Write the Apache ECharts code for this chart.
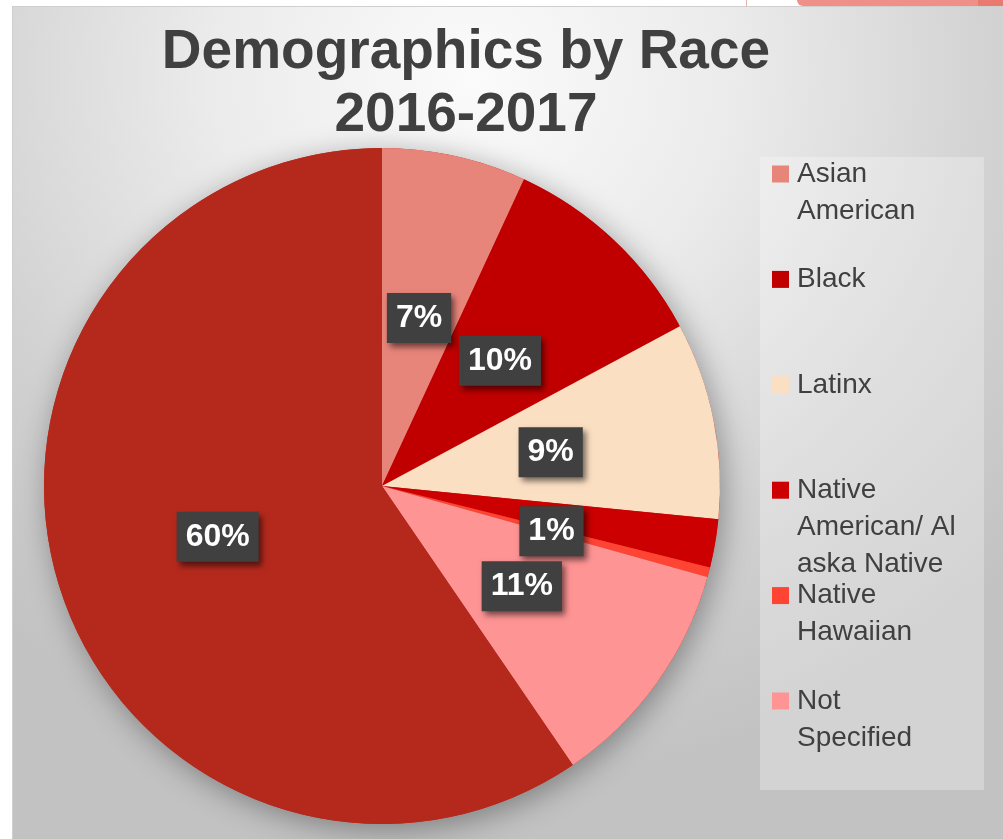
<!DOCTYPE html>
<html>
<head>
<meta charset="utf-8">
<script src="https://cdn.jsdelivr.net/npm/echarts@6/dist/echarts.min.js"></script>
<style>
  html, body { margin: 0; padding: 0; background: #ffffff; }
  #wrap { position: relative; width: 1003px; height: 839px; overflow: hidden; background: #ffffff; }
  #panel { position: absolute; left: 12px; top: 6px; width: 1000px; height: 840px;
    border-top: 1px solid #cfcfcf; border-left: 1px solid #cfcfcf;
    background: radial-gradient(ellipse 75% 85% at 46% 8%, #fbfbfb 0%, #ebebeb 35%, #d2d2d2 70%, #c2c2c2 100%); }
  #topline { position: absolute; left: 746px; top: 0; width: 1px; height: 6px; background: #e5b5b0; }
  #tab { position: absolute; left: 797px; top: -4px; width: 220px; height: 10px; background: #ee9088; border-radius: 0 0 0 6px; }
  #tab2 { position: absolute; left: 978px; top: -4px; width: 40px; height: 10px; background: #e87a70; }
  #chart { position: absolute; left: 0; top: 0; width: 1003px; height: 839px; }
</style>
</head>
<body>
<div id="wrap">
  <div id="panel"></div>
  <div id="topline"></div>
  <div id="tab"></div>
  <div id="tab2"></div>
  <div id="chart"></div>
</div>
<script>
// ---- data ----
var categories = ['Asian American', 'Black', 'Latinx', 'Native American/ Alaska Native', 'Native Hawaiian', 'Not Specified', 'White'];
var values = [6.9, 10.25, 9.4, 2.3, 0.47, 11.1, 59.5];
var percentLabels = ['7%', '10%', '9%', '1%', '', '11%', '60%'];
var legendLines = [['Asian', 'American'], ['Black'], ['Latinx'], ['Native', 'American/ Al', 'aska Native'], ['Native', 'Hawaiian'], ['Not', 'Specified']];
var colors = ['#E8857A', '#C00000', '#FBDFC2', '#CC0000', '#FF4433', '#FF9494', '#B5291D'];
var titleText = 'Demographics by Race\n2016-2017';

// ---- layout ----
var FONT = '"Liberation Sans", Arial, sans-serif';
var pieCenter = [382, 486];
var pieRadius = 338;
var legendFirstY = 174, legendStep = 105.4, legendLH = 37, legendFS = 28;

var chart = echarts.init(document.getElementById('chart'), null, { renderer: 'canvas' });

var legends = legendLines.map(function (lines, i) {
  var centerY = legendFirstY + i * legendStep;
  return {
    data: [categories[i]],
    orient: 'vertical',
    left: 772,
    top: centerY - legendLH / 2,
    padding: 0,
    itemWidth: 17,
    itemHeight: 17,
    icon: 'rect',
    selectedMode: false,
    formatter: function () { return '{t|' + lines[0] + '}'; },
    textStyle: {
      fontFamily: FONT,
      fontSize: legendFS,
      lineHeight: legendLH,
      color: '#404040',
      rich: {
        t: {
          fontFamily: FONT,
          fontSize: legendFS,
          lineHeight: legendLH,
          color: '#404040',
          padding: [0, 0, 0, 3]
        }
      }
    }
  };
});

var legendMore = [];
legendLines.forEach(function (lines, i) {
  if (lines.length > 1) {
    var centerY = legendFirstY + i * legendStep;
    legendMore.push({
      type: 'text',
      x: 797,
      y: centerY + legendLH / 2,
      silent: true,
      style: {
        text: lines.slice(1).join('\n'),
        font: legendFS + 'px ' + FONT,
        lineHeight: legendLH,
        fill: '#404040',
        verticalAlign: 'top',
        align: 'left'
      }
    });
  }
});

var pieData = categories.map(function (c, i) {
  return {
    name: c,
    value: values[i],
    itemStyle: { color: colors[i] },
    label: { show: percentLabels[i] !== '' }
  };
});

chart.setOption({
  animation: false,
  backgroundColor: 'transparent',
  color: colors,
  graphic: [{
    type: 'rect',
    left: 760, top: 157,
    shape: { width: 224, height: 633 },
    style: { fill: 'rgba(255,255,255,0.28)' },
    z: -10, silent: true
  }].concat(legendMore),
  title: {
    text: titleText,
    left: 466,
    top: 21,
    padding: 0,
    textAlign: 'center',
    textStyle: {
      fontFamily: FONT,
      fontSize: 55,
      fontWeight: 'bold',
      lineHeight: 63,
      color: '#404040'
    }
  },
  legend: legends,
  series: [{
    type: 'pie',
    name: 'shadow',
    silent: true,
    center: pieCenter,
    radius: pieRadius,
    z: 1,
    label: { show: false },
    labelLine: { show: false },
    data: [{ value: 1, name: '', itemStyle: { color: '#B5291D', shadowBlur: 30, shadowColor: 'rgba(0,0,0,0.35)', shadowOffsetX: 4, shadowOffsetY: 6 } }]
  }, {
    type: 'pie',
    name: 'Race',
    center: pieCenter,
    radius: pieRadius,
    startAngle: 90,
    clockwise: true,
    z: 2,
    avoidLabelOverlap: false,
    itemStyle: { borderWidth: 0 },
    emphasis: { disabled: true },
    label: {
      show: true,
      position: 'inside',
      formatter: function (p) { return percentLabels[p.dataIndex]; },
      fontFamily: FONT,
      fontSize: 32,
      fontWeight: 'bold',
      lineHeight: 32,
      color: '#ffffff',
      backgroundColor: '#404040',
      padding: [9, 9, 9, 9],
      shadowColor: 'rgba(0,0,0,0.55)',
      shadowBlur: 6,
      shadowOffsetX: 3,
      shadowOffsetY: 4
    },
    labelLayout: function (p) {
      if (p.dataIndex === 3) { return { dy: 16 }; }
      return {};
    },
    labelLine: { show: false },
    data: pieData
  }]
});
</script>
</body>
</html>
